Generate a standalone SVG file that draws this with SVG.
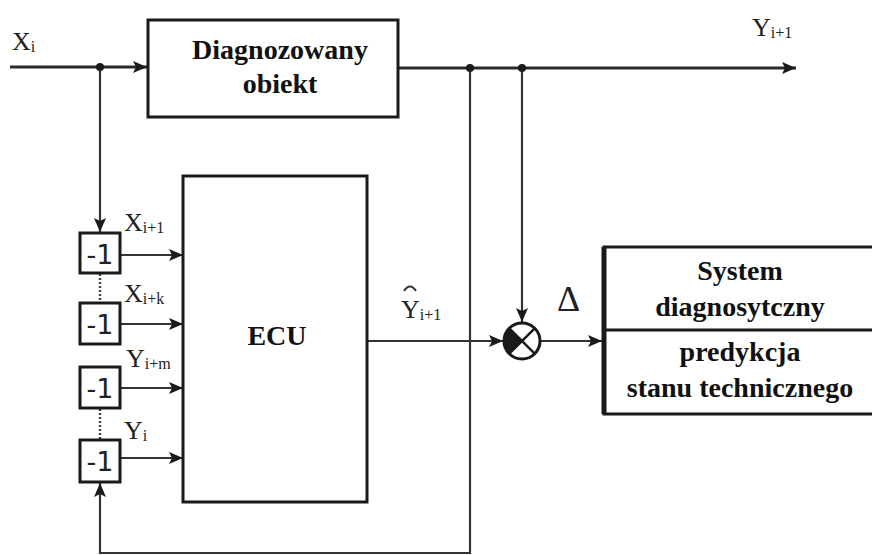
<svg xmlns="http://www.w3.org/2000/svg" width="872" height="555" viewBox="0 0 872 555">
<defs>
<marker id="a" viewBox="0 0 14 12" refX="14" refY="6" markerWidth="14" markerHeight="12" markerUnits="userSpaceOnUse" orient="auto">
<path d="M0,0 L14,6 L0,12 L3,6 z" fill="#1a1a1a"/>
</marker>
</defs>
<style>
.box{fill:#fff;stroke:#1a1a1a;stroke-width:3}
.ln{fill:none;stroke:#2a2a2a;stroke-width:3}
.thin{fill:none;stroke:#333;stroke-width:2.2}
.dot{fill:#1a1a1a}
.bt{font-family:"Liberation Serif",serif;font-weight:bold;font-size:28px;fill:#111;text-anchor:middle}
.lb{font-family:"Liberation Serif",serif;font-size:26px;fill:#222}
.sb{font-size:16px}
.m1{font-family:"DejaVu Sans","Liberation Sans",sans-serif;font-size:27px;fill:#222;text-anchor:middle}
</style>
<rect width="872" height="555" fill="#fff"/>
<g id="connectors">
<path class="ln" d="M10,67 H147" marker-end="url(#a)"/>
<path class="ln" d="M398,68 H796" marker-end="url(#a)"/>
<path class="thin" d="M100,67 V232" marker-end="url(#a)"/>
<path class="thin" d="M522,68 V322" marker-end="url(#a)"/>
<path class="thin" d="M470,68 V553 H100 V483" marker-end="url(#a)"/>
<path class="thin" d="M120,255 H183" marker-end="url(#a)"/>
<path class="thin" d="M120,324 H183" marker-end="url(#a)"/>
<path class="thin" d="M120,388 H183" marker-end="url(#a)"/>
<path class="thin" d="M120,458 H183" marker-end="url(#a)"/>
<path class="thin" d="M367,341 H503" marker-end="url(#a)"/>
<path class="thin" d="M540,341 H602" marker-end="url(#a)"/>
<path d="M100,274 V302 M100,409 V439" stroke="#444" stroke-width="2.5" stroke-dasharray="2,2" fill="none"/>
<circle class="dot" cx="100" cy="67" r="4"/>
<circle class="dot" cx="470" cy="68" r="4"/>
<circle class="dot" cx="522" cy="68" r="4"/>
</g>
<g id="labels">
<text class="lb" x="12" y="50">X<tspan class="sb" dy="2">i</tspan></text>
<text class="lb" x="752" y="36">Y<tspan class="sb" dy="2">i+1</tspan></text>
<text class="lb" x="124" y="231">X<tspan class="sb" dy="2">i+1</tspan></text>
<text class="lb" x="124" y="302">X<tspan class="sb" dy="2">i+k</tspan></text>
<text class="lb" x="126" y="367">Y<tspan class="sb" dy="2">i+m</tspan></text>
<text class="lb" x="124" y="439">Y<tspan class="sb" dy="2">i</tspan></text>
<text class="lb" x="401" y="318">Y<tspan class="sb" dy="2">i+1</tspan></text>
<path d="M404,291 Q410,282 416,291" fill="none" stroke="#333" stroke-width="2"/>
<text x="557" y="311" style="font-family:'Liberation Serif',serif;font-size:36px;fill:#222">Δ</text>
</g>
<g id="obiekt">
<rect class="box" x="148" y="20" width="250" height="97"/>
<text class="bt" x="280" y="59">Diagnozowany</text>
<text class="bt" x="280" y="93">obiekt</text>
</g>
<g id="ecu">
<rect class="box" x="183" y="176" width="184" height="326"/>
<text class="bt" x="277" y="345">ECU</text>
</g>
<g id="d1"><rect class="box" x="80" y="233" width="40" height="40"/><text class="m1" x="100" y="264">-1</text></g>
<g id="d2"><rect class="box" x="80" y="303" width="40" height="41"/><text class="m1" x="100" y="334">-1</text></g>
<g id="d3"><rect class="box" x="80" y="367" width="40" height="41"/><text class="m1" x="100" y="398">-1</text></g>
<g id="d4"><rect class="box" x="80" y="440" width="40" height="42"/><text class="m1" x="100" y="471">-1</text></g>
<g id="sum">
<circle cx="522" cy="341" r="18" fill="#fff" stroke="#1a1a1a" stroke-width="3"/>
<path d="M522,341 L509.3,328.3 A18,18 0 0 0 509.3,353.7 Z" fill="#1a1a1a"/>
<path d="M509.3,328.3 L534.7,353.7 M534.7,328.3 L509.3,353.7" stroke="#1a1a1a" stroke-width="2.5"/>
</g>
<g id="system">
<path d="M872,247 H604 V414 H872" fill="#fff" stroke="#1a1a1a" stroke-width="3"/>
<path d="M604,247 V414" stroke="#1a1a1a" stroke-width="5"/>
<path d="M604,330 H872" stroke="#1a1a1a" stroke-width="3"/>
<text class="bt" x="740" y="280">System</text>
<text class="bt" x="740" y="316">diagnosytczny</text>
<text class="bt" x="740" y="361">predykcja</text>
<text class="bt" x="740" y="397">stanu technicznego</text>
</g>
</svg>
